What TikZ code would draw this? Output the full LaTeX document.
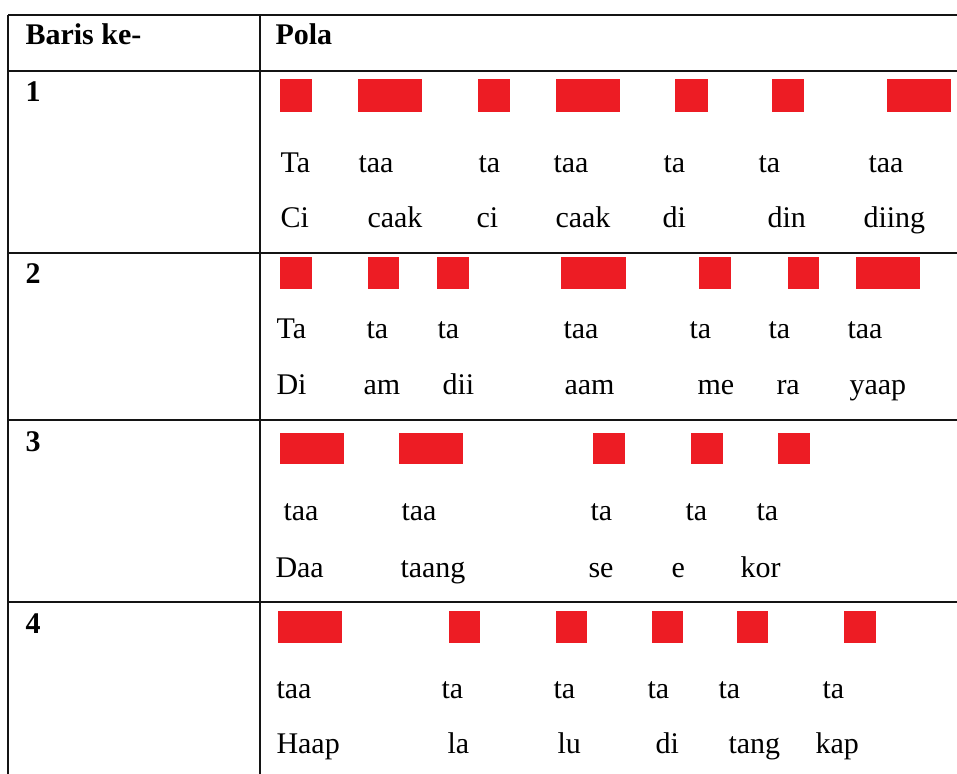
\documentclass[tikz,border=0pt]{standalone}
\usepackage{fontspec}
\setmainfont{Liberation Serif}

\tikzset{every picture/.style={line width=0.75pt}}
\tikzset{
  garis/.style={color={rgb, 255:red, 20; green, 20; blue, 20 }, line width=0.9pt},
  pola/.style={fill={rgb, 255:red, 237; green, 28; blue, 36 }, draw opacity=0},
  suku/.style={anchor=base west, inner sep=0pt, font=\fontsize{22.5}{27}\selectfont},
  judul/.style={suku, font=\fontsize{22.5}{27}\selectfont\bfseries}
}

\begin{document}
\begin{tikzpicture}[x=0.75pt,y=0.75pt,yscale=-1,xscale=1]
\useasboundingbox (0,0) rectangle (957,774);

%Table lines
\draw [garis] (8,15) -- (957,15) ;
\draw [garis] (8,71) -- (957,71) ;
\draw [garis] (8,253) -- (957,253) ;
\draw [garis] (8,420) -- (957,420) ;
\draw [garis] (8,602) -- (957,602) ;
\draw [garis] (8,15) -- (8,774) ;
\draw [garis] (260,15) -- (260,774) ;

% Header
\draw (25,45) node [judul] (hbaris) {Baris ke-};
\draw (275,45) node [judul] (hpola) {Pola};
\draw (25,102) node [judul] (no1) {1};
\draw (25,283) node [judul] (no2) {2};
\draw (25,451) node [judul] (no3) {3};
\draw (25,633) node [judul] (no4) {4};

%Shape: Rectangle (baris 1)
\fill [pola] (280,79) rectangle (312,112) ;
\fill [pola] (358,79) rectangle (422,112) ;
\fill [pola] (478,79) rectangle (510,112) ;
\fill [pola] (556,79) rectangle (620,112) ;
\fill [pola] (675,79) rectangle (708,112) ;
\fill [pola] (772,79) rectangle (804,112) ;
\fill [pola] (887,79) rectangle (951,112) ;
% Text Node
\draw (280,172) node [suku] (a1) {Ta};
\draw (358,172) node [suku] (a2) {taa};
\draw (478,172) node [suku] (a3) {ta};
\draw (553,172) node [suku] (a4) {taa};
\draw (663,172) node [suku] (a5) {ta};
\draw (758,172) node [suku] (a6) {ta};
\draw (868,172) node [suku] (a7) {taa};
% Text Node
\draw (280,227) node [suku] (b1) {Ci};
\draw (367,227) node [suku] (b2) {caak};
\draw (476,227) node [suku] (b3) {ci};
\draw (555,227) node [suku] (b4) {caak};
\draw (662,227) node [suku] (b5) {di};
\draw (767,227) node [suku] (b6) {din};
\draw (863,227) node [suku] (b7) {diing};

%Shape: Rectangle (baris 2)
\fill [pola] (280,257) rectangle (312,289) ;
\fill [pola] (368,257) rectangle (399,289) ;
\fill [pola] (437,257) rectangle (469,289) ;
\fill [pola] (561,257) rectangle (626,289) ;
\fill [pola] (699,257) rectangle (731,289) ;
\fill [pola] (788,257) rectangle (819,289) ;
\fill [pola] (856,257) rectangle (920,289) ;
% Text Node
\draw (276,338) node [suku] (c1) {Ta};
\draw (366,338) node [suku] (c2) {ta};
\draw (437,338) node [suku] (c3) {ta};
\draw (563,338) node [suku] (c4) {taa};
\draw (689,338) node [suku] (c5) {ta};
\draw (768,338) node [suku] (c6) {ta};
\draw (847,338) node [suku] (c7) {taa};
% Text Node
\draw (276,394) node [suku] (d1) {Di};
\draw (363,394) node [suku] (d2) {am};
\draw (442,394) node [suku] (d3) {dii};
\draw (564,394) node [suku] (d4) {aam};
\draw (697,394) node [suku] (d5) {me};
\draw (776,394) node [suku] (d6) {ra};
\draw (849,394) node [suku] (d7) {yaap};

%Shape: Rectangle (baris 3)
\fill [pola] (280,433) rectangle (344,464) ;
\fill [pola] (399,433) rectangle (463,464) ;
\fill [pola] (593,433) rectangle (625,464) ;
\fill [pola] (691,433) rectangle (723,464) ;
\fill [pola] (778,433) rectangle (810,464) ;
% Text Node
\draw (283,520) node [suku] (e1) {taa};
\draw (401,520) node [suku] (e2) {taa};
\draw (590,520) node [suku] (e3) {ta};
\draw (685,520) node [suku] (e4) {ta};
\draw (756,520) node [suku] (e5) {ta};
% Text Node
\draw (275,577) node [suku] (f1) {Daa};
\draw (400,577) node [suku] (f2) {taang};
\draw (588,577) node [suku] (f3) {se};
\draw (671,577) node [suku] (f4) {e};
\draw (740,577) node [suku] (f5) {kor};

%Shape: Rectangle (baris 4)
\fill [pola] (278,611) rectangle (342,643) ;
\fill [pola] (449,611) rectangle (480,643) ;
\fill [pola] (556,611) rectangle (587,643) ;
\fill [pola] (652,611) rectangle (683,643) ;
\fill [pola] (737,611) rectangle (768,643) ;
\fill [pola] (844,611) rectangle (876,643) ;
% Text Node
\draw (276,698) node [suku] (g1) {taa};
\draw (441,698) node [suku] (g2) {ta};
\draw (553,698) node [suku] (g3) {ta};
\draw (647,698) node [suku] (g4) {ta};
\draw (718,698) node [suku] (g5) {ta};
\draw (822,698) node [suku] (g6) {ta};
% Text Node
\draw (276,753) node [suku] (h1) {Haap};
\draw (447,753) node [suku] (h2) {la};
\draw (557,753) node [suku] (h3) {lu};
\draw (655,753) node [suku] (h4) {di};
\draw (728,753) node [suku] (h5) {tang};
\draw (815,753) node [suku] (h6) {kap};

\end{tikzpicture}
\end{document}
